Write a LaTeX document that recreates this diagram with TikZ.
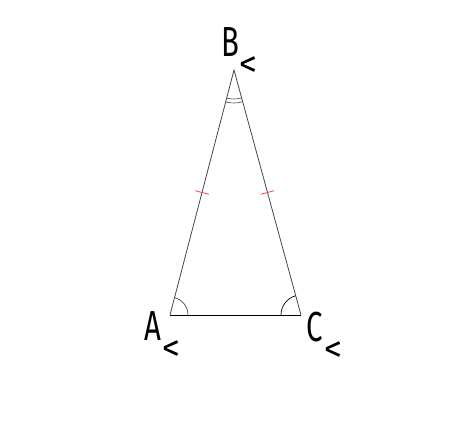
\documentclass[tikz,border=0pt]{standalone}
\usepackage{fontspec}
\setmainfont{Fira Sans}
\usetikzlibrary{angles, calc, math}
\definecolor{tickred}{RGB}{240,70,70}
\definecolor{sidegray}{RGB}{70,70,70}
\newcommand{\vtxlabel}[2][0pt]{\scalebox{0.7}[1]{\fontsize{42}{42}\selectfont #2}\kern#1\raisebox{-20pt}{\fontsize{36}{36}\selectfont <}}

\begin{document}
\begin{tikzpicture}[x=1pt,y=1pt]
\tikzmath{
\tk=7;
}
\useasboundingbox (0,0) rectangle (460,439);
%vertices
\coordinate (A) at (170,124);
\coordinate (B) at (234,369);
\coordinate (C) at (301,124);
%triangle
\draw[sidegray, line width=0.8] (A) -- (B) -- (C);
\draw[black, line width=0.7] (A) -- (C);
%angles
\pic[draw=sidegray, line width=0.7, angle radius=18] {angle = C--A--B};
\pic[draw=black, line width=0.7, angle radius=20] {angle = B--C--A};
\pic[draw=sidegray, line width=0.6, angle radius=29] {angle = A--B--C};
\pic[draw=sidegray, line width=0.6, angle radius=33] {angle = A--B--C};
%equal sides
\draw[tickred, line width=0.8] ($(A)!0.5!(B)!\tk pt!90:(B)$) -- ($(A)!0.5!(B)!\tk pt!-90:(B)$);
\draw[tickred, line width=0.8] ($(B)!0.5!(C)!\tk pt!90:(C)$) -- ($(B)!0.5!(C)!\tk pt!-90:(C)$);
%labels
\node[inner sep=0, anchor=base west] (labB) at (221,382) {\vtxlabel{B}};
\node[inner sep=0, anchor=base west] (labA) at (144,99) {\vtxlabel[1pt]{A}};
\node[inner sep=0, anchor=base west] (labC) at (306,97) {\vtxlabel[2pt]{C}};
\end{tikzpicture}
\end{document}
